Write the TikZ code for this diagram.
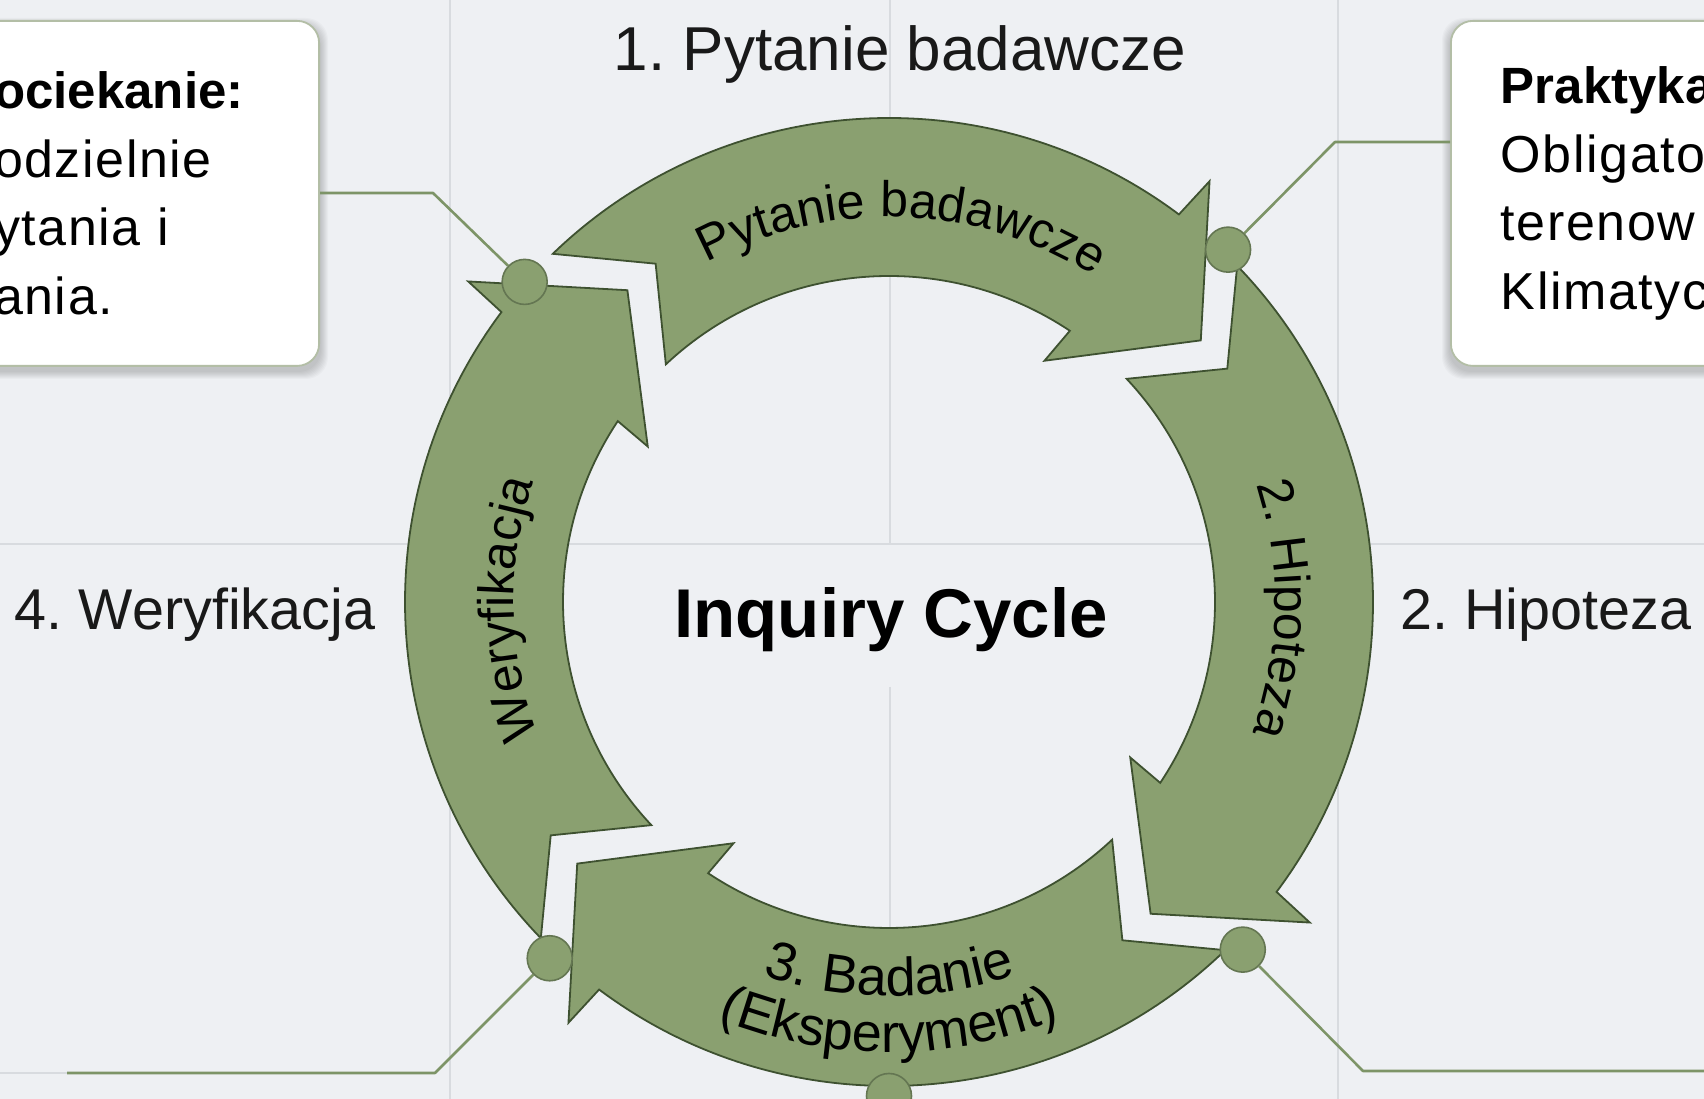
\documentclass[tikz,border=0pt]{standalone}
\usepackage{fontspec}
\setmainfont{Liberation Sans}
\usetikzlibrary{decorations.text, positioning, calc}
\tikzset{>=latex}

\definecolor{bg}{HTML}{EEF0F3}
\definecolor{gridgray}{HTML}{D8DBDF}
\definecolor{leaf}{HTML}{8AA070}
\definecolor{leafdark}{HTML}{3E5130}
\definecolor{leafline}{HTML}{7D9467}
\definecolor{boxline}{HTML}{B3BEA6}

\newcommand{\notefont}{\fontsize{52}{68.5}\selectfont\addfontfeature{LetterSpace=3}}
\newcommand{\notehead}[1]{{\fontsize{51}{68.5}\selectfont\bfseries\addfontfeature{LetterSpace=0}#1}}
\newcommand{\labelfont}{\fontsize{57.5}{70}\selectfont}
\newcommand{\arcfont}{\fontsize{50}{60}\selectfont}
\newcommand{\arcfontbig}{\fontsize{54}{60}\selectfont}
\newcommand{\titlefont}{\fontsize{69}{80}\selectfont\bfseries}

\tikzset{
  gridline/.style={gridgray, line width=2pt},
  ringarrow/.style={fill=leaf, draw=leafdark, line width=1.8pt, line join=miter},
  joint/.style={circle, fill=leaf, draw=leafline!80!black, line width=1.6pt, minimum size=45pt, inner sep=0pt},
  leader/.style={leafline, line width=2.6pt},
  notebox/.style={fill=white, draw=boxline, line width=1.8pt, rounded corners=22pt, minimum height=345pt, text width=300pt, align=left, font=\notefont},
  steplabel/.style={font=\labelfont, anchor=base, text=black!90},
  arctext/.style={decorate, decoration={text along path, text align=center, text={|\arcfont|#1}}},
  arctextbig/.style={decorate, decoration={text along path, text align=center, text={|\arcfontbig|#1}}}
}

\begin{document}
\frenchspacing
\begin{tikzpicture}[x=1pt, y=1pt, line join=round]
  \useasboundingbox (0,0) rectangle (1704,1099);
  \clip (0,0) rectangle (1704,1099);
  \fill[bg] (0,0) rectangle (1704,1099);

  % grid
  \foreach \gx in {450,1338} \draw[gridline] (\gx,0) -- (\gx,1099);
  \draw[gridline] (890,1099) -- (890,555);
  \draw[gridline] (890,412) -- (890,0);
  \draw[gridline] (0,555) -- (1704,555);
  \draw[gridline] (0,26) -- (67,26);

  % soft shadows under the notes
  \foreach \s in {1,...,8} {
    \fill[black, opacity=0.025, rounded corners=22pt] (-40-\s,728-\s) rectangle (320+\s,1073+\s);
    \fill[black, opacity=0.025, rounded corners=22pt] (1450-\s,728-\s) rectangle (1760+\s,1073+\s);
  }
  \node[notebox, anchor=north east, inner xsep=25pt] (leftnote) at (320,1079)
    {\notehead{ociekanie:}\\odzielnie\\ytania i\\ania.};
  \node[notebox, anchor=north west, inner xsep=50pt] (rightnote) at (1450,1079)
    {\notehead{Praktyka}\\Obligato\\terenow\\Klimatyc};

  % ring of arrows
  \begin{scope}[shift={(889,497)}]
    \foreach \t in {40,-50,-140,130}
      \draw[ringarrow] (\t:407) -- (\t+12.7:529) -- (\t+13.2:484)
        arc[start angle=\t+13.2, end angle=\t+94, radius=484]
        -- (\t+84.6:411) -- (\t+93.2:326)
        arc[start angle=\t+93.2, end angle=\t+16.3, radius=326]
        -- (\t+17.2:287) -- cycle;

    \path[arctext={Pytanie badawcze}] (150:385) arc[start angle=150, end angle=26, radius=385];
    \path[arctext={2. Hipoteza}] (59:386) arc[start angle=59, end angle=-61, radius=386];
    \path[arctextbig={3. Badanie}] (-150:394) arc[start angle=-150, end angle=-30, radius=394];
    \path[arctextbig={(Eksperyment)}] (-150:450) arc[start angle=-150, end angle=-30, radius=450];
    \path[arctext={Weryfikacja}] (241:375) arc[start angle=241, end angle=121, radius=375];

    \node[joint] (jointTL) at (138.7:485) {};
    \node[joint] (jointTR) at (46.1:489) {};
    \node[joint] (jointBR) at (-44.5:496) {};
    \node[joint] (jointBL) at (-133.6:492) {};
    \node[joint] (jointB) at (-90:494) {};
  \end{scope}

  % leaders
  \coordinate (kinkTL) at (433,906);
  \coordinate (kinkTR) at (1335,957);
  \coordinate (kinkBL) at (435,26);
  \coordinate (kinkBR) at (1363,28);
  \coordinate (endBL) at (67,26);
  \coordinate (endBR) at (1704,28);
  \draw[leader] (jointTL) -- (kinkTL) -- (leftnote.east |- kinkTL);
  \draw[leader] (jointTR) -- (kinkTR) -- (rightnote.west |- kinkTR);
  \draw[leader] (jointBL) -- (kinkBL) -- (endBL);
  \draw[leader] (jointBR) -- (kinkBR) -- (endBR);

  % labels
  \node[steplabel, font=\fontsize{62}{70}\selectfont] (stepone) at (900,1028) {1. Pytanie badawcze};
  \node[steplabel] (steptwo) at (1546,469) {2. Hipoteza};
  \node[steplabel] (stepfour) at (195,469) {4. Weryfikacja};
  \node[font=\titlefont, anchor=base] (cycletitle) at (891,461) {Inquiry Cycle};
\end{tikzpicture}
\end{document}
